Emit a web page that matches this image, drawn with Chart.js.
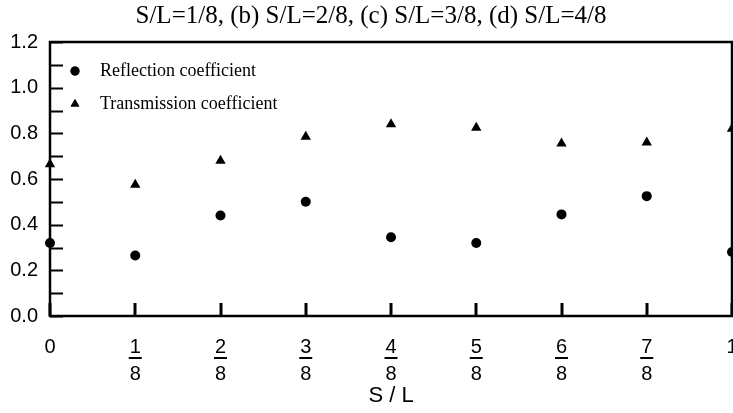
<!DOCTYPE html>
<html><head><meta charset="utf-8">
<script src="https://cdn.jsdelivr.net/npm/chart.js@4.4.0/dist/chart.umd.min.js"></script>
<style>html,body{margin:0;padding:0;background:#fff}</style>
</head><body>
<canvas id="c" width="733" height="413" style="display:block"></canvas>
<script>
// ---- data ----
const chartTitle = 'S/L=1/8, (b) S/L=2/8, (c) S/L=3/8, (d) S/L=4/8';
const xTitle = 'S / L';
const seriesNames = ['Reflection coefficient', 'Transmission coefficient'];
const sPositions = [0, 0.125, 0.25, 0.375, 0.5, 0.625, 0.75, 0.875, 1];
const xTickLabels = ['0', ['1', '8'], ['2', '8'], ['3', '8'], ['4', '8'], ['5', '8'], ['6', '8'], ['7', '8'], '1'];
const reflection = [0.32, 0.265, 0.44, 0.50, 0.345, 0.32, 0.445, 0.525, 0.28];
const transmission = [0.665, 0.575, 0.68, 0.785, 0.84, 0.825, 0.755, 0.76, 0.82];
const yTickValues = [0.0, 0.2, 0.4, 0.6, 0.8, 1.0, 1.2];

const serif = '"Liberation Serif", "Times New Roman", serif';
const sans = '"Liberation Sans", Arial, sans-serif';

const toPts = arr => arr.map((v, i) => ({ x: sPositions[i], y: v }));

const framePlugin = {
  id: 'frame',
  beforeDatasetsDraw(chart) {
    const { ctx, chartArea: a, scales } = chart;
    ctx.save();
    ctx.strokeStyle = '#000';
    // inward y ticks
    ctx.lineWidth = 2;
    scales.y.ticks.forEach(t => {
      const y = Math.round(scales.y.getPixelForValue(t.value)) + 0.5;
      ctx.beginPath(); ctx.moveTo(a.left, y); ctx.lineTo(a.left + 13, y); ctx.stroke();
    });
    // inward x ticks
    ctx.lineWidth = 3;
    scales.x.ticks.forEach(t => {
      const x = Math.round(scales.x.getPixelForValue(t.value));
      ctx.beginPath(); ctx.moveTo(x, a.bottom); ctx.lineTo(x, a.bottom - 13); ctx.stroke();
    });
    // frame
    ctx.lineWidth = 2.5;
    ctx.strokeRect(a.left, a.top, a.right - a.left, a.bottom - a.top);
    ctx.restore();
  },
  afterDraw(chart) {
    const { ctx, chartArea: a, scales } = chart;
    ctx.save();
    // fraction bars
    ctx.strokeStyle = '#000';
    ctx.lineWidth = 2;
    scales.x.ticks.forEach(t => {
      if (Array.isArray(t.label)) {
        const x = scales.x.getPixelForValue(t.value);
        const y = a.bottom + 42;
        ctx.beginPath(); ctx.moveTo(x - 6.5, y); ctx.lineTo(x + 6.5, y); ctx.stroke();
      }
    });
    // title
    ctx.fillStyle = '#000';
    ctx.font = '25px ' + serif;
    ctx.textAlign = 'center';
    ctx.textBaseline = 'alphabetic';
    ctx.fillText(chartTitle, 371, 23);
    // legend
    ctx.font = '18px ' + serif;
    ctx.textAlign = 'left';
    ctx.textBaseline = 'middle';
    const rows = [71, 104];
    chart.data.datasets.forEach((ds, i) => {
      Chart.helpers.drawPoint(ctx, {
        pointStyle: ds.pointStyle, radius: i === 0 ? 4.5 : 5, rotation: 0, borderWidth: 0
      }, 75, rows[i]);
      ctx.fill();
      ctx.fillText(ds.label, 100, rows[i]);
    });
    ctx.restore();
  }
};

new Chart(document.getElementById('c'), {
  type: 'scatter',
  data: {
    datasets: [
      { label: seriesNames[0], data: toPts(reflection), pointStyle: 'circle', pointRadius: 5,
        backgroundColor: '#000', borderColor: '#000', borderWidth: 0, clip: false },
      { label: seriesNames[1], data: toPts(transmission), pointStyle: 'triangle', pointRadius: 6,
        backgroundColor: '#000', borderColor: '#000', borderWidth: 0, clip: false }
    ]
  },
  options: {
    responsive: false,
    animation: false,
    devicePixelRatio: 1,
    layout: { autoPadding: false, padding: { top: 42, right: 1, left: 0, bottom: 0 } },
    plugins: { legend: { display: false }, title: { display: false }, tooltip: { enabled: false } },
    scales: {
      x: {
        type: 'linear', min: 0, max: 1,
        grid: { display: true, drawOnChartArea: false, drawTicks: true, tickLength: 18, tickColor: 'rgba(0,0,0,0)' },
        border: { display: false },
        ticks: {
          stepSize: 0.125, autoSkip: false, maxRotation: 0, padding: 0,
          align: 'end', labelOffset: 5.5,
          color: '#000', font: { family: sans, size: 20, lineHeight: 1.35 },
          callback: v => {
            const i = sPositions.findIndex(p => Math.abs(p - v) < 1e-6);
            return i >= 0 ? xTickLabels[i] : '';
          }
        },
        title: { display: true, text: xTitle, color: '#000', font: { family: sans, size: 22 }, padding: { top: 0, bottom: 4 } },
        afterFit: s => { s.height = 97; }
      },
      y: {
        type: 'linear', min: 0, max: 1.2,
        grid: { display: false, drawTicks: false },
        border: { display: false },
        ticks: {
          stepSize: 0.1, autoSkip: false, padding: 12,
          color: '#000', font: { family: sans, size: 20 },
          callback: v => {
            const hit = yTickValues.find(t => Math.abs(t - v) < 1e-6);
            return hit !== undefined ? hit.toFixed(1) : '';
          }
        },
        afterFit: s => { s.width = 50; }
      }
    }
  },
  plugins: [framePlugin]
});
</script>
</body></html>
